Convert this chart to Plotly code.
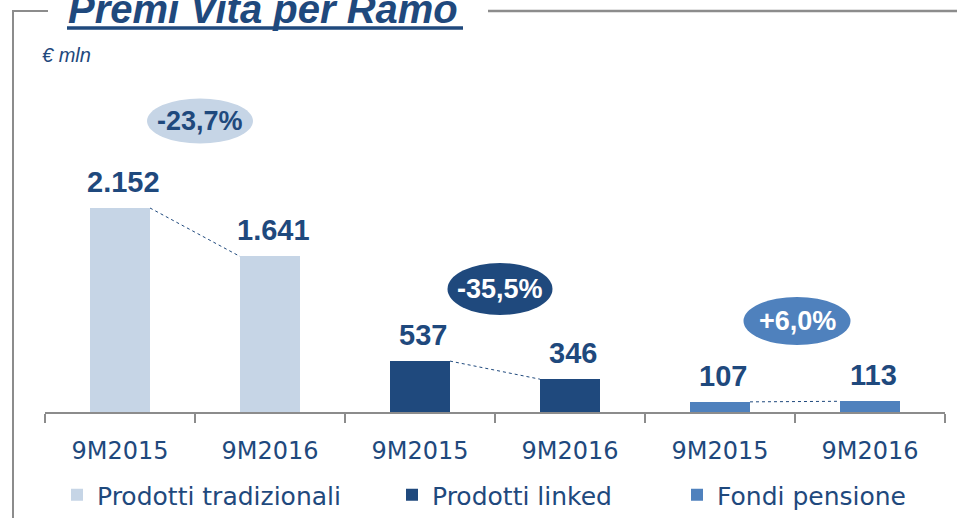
import plotly.graph_objects as go

# ---- data ----
series_names = ["Prodotti tradizionali", "Prodotti linked", "Fondi pensione"]
periods = ["9M2015", "9M2016"]
values_trad = [2152, 1641]
values_linked = [537, 346]
values_fondi = [107, 113]
changes = ["-23,7%", "-35,5%", "+6,0%"]
unit_label = "€ mln"
title_text = "Premi Vita per Ramo"

# ---- styles ----
DARK = "#1F497D"
MID = "#4F81BD"
LIGHT = "#C6D5E6"
colors = [LIGHT, DARK, MID]
ell_text_colors = [DARK, "white", "white"]
GRAY = "#8C8C8C"

W, H = 957, 518
ML, MR, MT, MB = 45, 12, 80, 106
PW = W - ML - MR
PH = H - MT - MB


def px_x(px):
    return (px - ML) / PW


def px_y(py):
    return (H - MB - py) / PH


all_values = [values_trad, values_linked, values_fondi]
fmt = lambda v: f"{v:,}".replace(",", ".")

fig = go.Figure()
tick_labels = []
for i, (name, vals) in enumerate(zip(series_names, all_values)):
    xs = [2 * i, 2 * i + 1]
    tick_labels += periods
    fig.add_trace(go.Bar(
        x=xs, y=vals, name=name, width=0.4,
        marker=dict(color=colors[i], line=dict(width=0)),
        hoverinfo="skip",
        legend="legend" if i == 0 else f"legend{i + 1}",
    ))
    # dotted connector between bar tops
    fig.add_trace(go.Scatter(
        x=[xs[0] + 0.2, xs[1] - 0.2], y=vals, mode="lines",
        line=dict(color=DARK, width=1, dash="dot"),
        showlegend=False, hoverinfo="skip",
    ))
    for x, v in zip(xs, vals):
        fig.add_annotation(
            x=x, y=v, text=f"<b>{fmt(v)}</b>", showarrow=False,
            xanchor="center", yanchor="bottom", yshift=8, xshift=3,
            font=dict(family="Liberation Sans, Arial", size=29, color=DARK),
        )

# change ellipses
ell_pos = [(0.5, 5, 121, 106, 45), (2.5, 5, 289, 105, 52), (4.5, 2, 321, 107, 48)]
for i, (xc, xoff, yc, ew, eh) in enumerate(ell_pos):
    fig.add_shape(
        type="circle", xref="x", yref="paper",
        xsizemode="pixel", ysizemode="pixel",
        xanchor=xc, yanchor=px_y(yc),
        x0=xoff - ew / 2, x1=xoff + ew / 2, y0=-eh / 2, y1=eh / 2,
        fillcolor=colors[i], line=dict(width=0), layer="above",
    )
    fig.add_annotation(
        x=xc, y=px_y(yc), xref="x", yref="paper", xshift=xoff,
        xanchor="center", yanchor="middle",
        text=f"<b>{changes[i]}</b>", showarrow=False,
        font=dict(family="Liberation Sans, Arial", size=27, color=ell_text_colors[i]),
    )

# title, underline, frame
fig.add_annotation(
    x=px_x(66), y=px_y(9), xref="paper", yref="paper", xanchor="left", yanchor="middle",
    text=f"<b><i>{title_text}</i></b>", showarrow=False,
    font=dict(family="Liberation Sans, Arial", size=40, color=DARK),
)
fig.add_shape(type="line", xref="paper", yref="paper",
              x0=px_x(67), x1=px_x(463), y0=px_y(28), y1=px_y(28),
              line=dict(color=DARK, width=3.5))
fig.add_shape(type="path", xref="paper", yref="paper",
              path=f"M {px_x(13)} {px_y(520)} L {px_x(13)} {px_y(11)} L {px_x(48)} {px_y(11)}",
              line=dict(color=GRAY, width=2))
fig.add_shape(type="line", xref="paper", yref="paper",
              x0=px_x(488), x1=px_x(960), y0=px_y(11), y1=px_y(11),
              line=dict(color=GRAY, width=2.5))
fig.add_annotation(
    x=px_x(40), y=px_y(55), xref="paper", yref="paper", xanchor="left", yanchor="middle",
    text=f"<i>{unit_label}</i>", showarrow=False,
    font=dict(family="Liberation Sans, Arial", size=20, color=DARK),
)

ymax = PH * values_trad[0] / 204

legend_common = dict(
    orientation="h", yanchor="middle", xanchor="left", y=px_y(495),
    font=dict(family="DejaVu Sans", size=25, color=DARK),
    bgcolor="rgba(0,0,0,0)", borderwidth=0,
)

fig.update_layout(
    width=W, height=H,
    margin=dict(l=ML, r=MR, t=MT, b=MB, autoexpand=False),
    plot_bgcolor="white", paper_bgcolor="white",
    bargap=0,
    xaxis=dict(
        range=[-0.5, 5.5], tickmode="array",
        tickvals=list(range(6)), ticktext=tick_labels,
        ticks="outside", ticklen=16, tickcolor="rgba(0,0,0,0)",
        tickfont=dict(family="DejaVu Sans", size=24, color=DARK),
        showline=True, linecolor=GRAY, linewidth=2,
        showgrid=False, zeroline=False, fixedrange=True, automargin=False,
        minor=dict(tickmode="array", tickvals=[k - 0.5 for k in range(7)],
                   ticks="outside", ticklen=9, tickcolor=GRAY, tickwidth=2, showgrid=False),
    ),
    yaxis=dict(range=[0, ymax], visible=False, fixedrange=True, automargin=False),
    legend=dict(legend_common, x=px_x(57)),
    legend2=dict(legend_common, x=px_x(392)),
    legend3=dict(legend_common, x=px_x(677)),
    showlegend=True,
)

fig.write_html(
    "out.html",
    config={"displayModeBar": False},
    post_script="document.body.style.margin='0';document.body.style.overflow='hidden';",
)
